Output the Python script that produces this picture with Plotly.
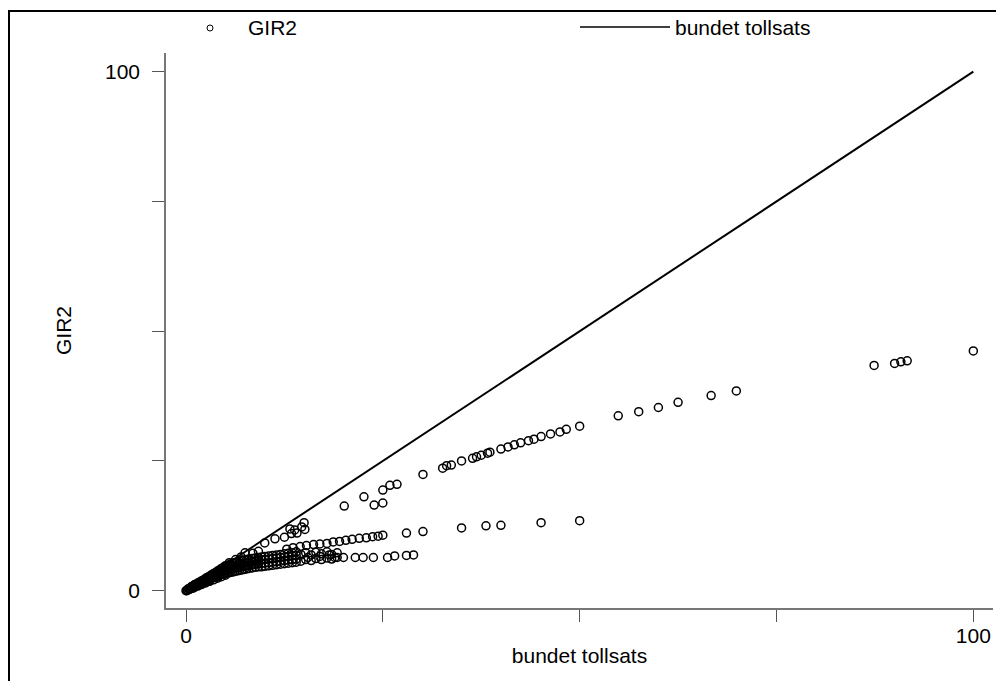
import plotly.graph_objects as go

# ---- data ----
# dense cluster near the origin (bundet tollsats, GIR2)
cluster_x = [
    0.0, 0.2, 0.2, 0.4, 0.4, 0.6, 0.6, 0.8, 0.8,
    1.0, 1.0, 1.0, 1.25, 1.25, 1.25, 1.5, 1.5, 1.5, 1.75, 1.75, 1.75,
    2.0, 2.0, 2.0, 2.25, 2.25, 2.25, 2.5, 2.5, 2.5, 2.75, 2.75, 2.75,
    3.0, 3.0, 3.0, 3.25, 3.25, 3.25, 3.5, 3.5, 3.5, 3.75, 3.75, 3.75,
    4.0, 4.0, 4.0, 4.25, 4.25, 4.25, 4.5, 4.5, 4.5, 4.75, 4.75, 4.75,
    0.5, 1.0, 1.5, 2.0, 2.5, 3.0, 3.5, 4.0, 4.5, 5.0, 0.3, 0.7, 1.1, 0.1, 0.9, 1.9, 2.9, 3.9,
    5.0, 5.0, 5.0, 5.0, 5.3, 5.3, 5.3, 5.3, 5.6, 5.6, 5.6, 5.6, 5.9, 5.9, 5.9, 5.9,
    6.2, 6.2, 6.2, 6.2, 6.5, 6.5, 6.5, 6.5, 6.8, 6.8, 6.8, 6.8, 7.1, 7.1, 7.1, 7.1,
    7.4, 7.4, 7.4, 7.4, 7.7, 7.7, 7.7, 7.7, 8.0, 8.0, 8.0, 8.0, 8.4, 8.4, 8.4, 8.4,
    8.8, 8.8, 8.8, 8.8, 9.2, 9.2, 9.2, 9.2, 9.6, 9.6, 9.6, 9.6, 10.0, 10.0, 10.0, 10.0,
    10.5, 10.5, 10.5, 10.5, 11.0, 11.0, 11.0, 11.0, 11.5, 11.5, 11.5, 11.5, 12.0, 12.0, 12.0, 12.0,
    12.5, 12.5, 12.5, 12.5, 13.0, 13.0, 13.0, 13.0, 13.5, 13.5, 13.5, 13.5, 14.0, 14.0, 14.0, 14.0,
    14.6, 14.6, 15.2, 15.2, 15.9, 15.9, 16.5, 16.5, 17.2, 17.2, 17.9, 17.9, 18.5, 18.5, 19.2, 19.2,
    5.5, 6.3, 7.0, 8.5, 9.2,
]
cluster_y = [
    0.0, 0.1, 0.2, 0.3, 0.4, 0.4, 0.6, 0.6, 0.8,
    0.7, 0.9, 1.0, 0.9, 1.1, 1.2, 1.1, 1.3, 1.5, 1.3, 1.5, 1.7,
    1.5, 1.7, 1.9, 1.6, 1.9, 2.1, 1.8, 2.1, 2.4, 2.0, 2.3, 2.6,
    2.2, 2.5, 2.8, 2.4, 2.7, 3.1, 2.5, 2.9, 3.3, 2.7, 3.1, 3.5,
    2.8, 3.3, 3.8, 3.0, 3.5, 4.0, 3.1, 3.7, 4.3, 3.2, 3.9, 4.5,
    0.3, 0.6, 0.9, 1.2, 1.5, 1.8, 2.1, 2.4, 2.7, 3.0, 0.4, 0.8, 1.2, 0.0, 0.5, 1.2, 1.9, 2.6,
    3.3, 3.8, 4.3, 4.8, 3.4, 3.9, 4.4, 4.9, 3.5, 4.0, 4.6, 5.1, 3.6, 4.2, 4.7, 5.3,
    3.7, 4.3, 4.8, 5.4, 3.8, 4.4, 5.0, 5.5, 3.9, 4.5, 5.1, 5.7, 4.0, 4.6, 5.2, 5.8,
    4.1, 4.7, 5.3, 5.9, 4.2, 4.8, 5.4, 6.0, 4.3, 4.9, 5.5, 6.1, 4.4, 5.0, 5.6, 6.2,
    4.5, 5.1, 5.7, 6.3, 4.6, 5.2, 5.8, 6.4, 4.6, 5.3, 5.9, 6.5, 4.7, 5.3, 6.0, 6.6,
    4.8, 5.4, 6.1, 6.7, 4.9, 5.5, 6.2, 6.8, 5.0, 5.6, 6.3, 6.9, 5.1, 5.7, 6.4, 7.0,
    5.2, 5.8, 6.5, 7.1, 5.3, 5.9, 6.6, 7.2, 5.4, 6.0, 6.7, 7.3, 5.5, 6.1, 6.8, 7.5,
    5.7, 7.0, 6.0, 7.3, 5.8, 6.9, 6.2, 7.4, 6.0, 7.1, 6.3, 7.5, 6.1, 7.0, 6.4, 7.3,
    5.4, 6.0, 6.5, 7.2, 7.6,
]

# middle branch
middle_x = [12.8, 13.6, 14.5, 15.3, 16.2, 17.0, 17.9, 18.7, 19.5, 20.3, 21.1, 22.0, 22.9, 23.7, 24.4, 25.0,
            28.0, 30.1, 35.0, 38.1, 40.0, 45.1, 50.0]
middle_y = [8.0, 8.3, 8.5, 8.7, 8.9, 9.0, 9.1, 9.4, 9.5, 9.7, 9.9, 10.1, 10.2, 10.4, 10.5, 10.7,
            11.1, 11.4, 12.1, 12.5, 12.6, 13.1, 13.5]

# lower branch
lower_x = [15.5, 17.0, 18.2, 18.9, 20.0, 21.5, 22.5, 23.8, 25.6, 26.5, 28.0, 28.9]
lower_y = [6.4, 6.6, 6.9, 6.4, 6.4, 6.4, 6.4, 6.4, 6.4, 6.7, 6.8, 6.9]

# upper branch
upper_x = [7.5, 10.0, 11.3, 12.5, 13.2, 13.4, 13.8, 14.1, 14.7, 15.0, 15.1, 20.1, 22.6, 23.9, 25.0, 25.0, 25.9, 26.8,
           30.1, 32.6, 33.1, 33.7, 35.0, 36.4, 36.9, 37.5, 38.3, 38.6, 40.0, 40.9, 41.7, 42.5, 43.5, 44.2, 45.1,
           46.3, 47.5, 48.3, 50.0, 54.9, 57.5, 60.0, 62.5, 66.7, 69.9, 87.4, 90.0, 90.8, 91.6, 100.0]
upper_y = [7.3, 9.2, 10.0, 10.3, 11.9, 11.0, 11.7, 11.1, 12.3, 13.1, 11.8, 16.3, 18.1, 16.5, 16.9, 19.4, 20.3, 20.5,
           22.4, 23.6, 24.1, 24.2, 25.0, 25.5, 25.8, 26.1, 26.5, 26.7, 27.3, 27.7, 28.1, 28.5, 28.9, 29.2, 29.7,
           30.2, 30.6, 31.1, 31.7, 33.7, 34.5, 35.3, 36.3, 37.6, 38.5, 43.4, 43.8, 44.1, 44.3, 46.2]

bundet_tollsats = cluster_x + middle_x + lower_x + upper_x
gir2 = cluster_y + middle_y + lower_y + upper_y

tick_vals = [0, 25, 50, 75, 100]
tick_text = ["0", "", "", "", "100"]

x_title = "bundet tollsats"
y_title = "GIR2"

FONT = "Liberation Sans, Arial, sans-serif"
FS = 21

line_x = sorted(set(bundet_tollsats))
line_y = line_x  # bundet tollsats plotted against itself

fig = go.Figure()
fig.add_trace(go.Scatter(
    x=bundet_tollsats, y=gir2, mode="markers", name=y_title,
    marker=dict(symbol="circle-open", size=8, color="black", line=dict(width=1.5, color="black")),
    showlegend=False,
))
fig.add_trace(go.Scatter(
    x=line_x, y=line_y, mode="lines", name=x_title,
    line=dict(color="black", width=2), showlegend=False,
))

# page body has an 8px margin; positions below are in screen pixels
OFF = 8
W, H = 1004 - OFF, 681 - OFF
L, R, T, B = 166 - OFF, 993 - OFF, 53 - OFF, 608 - OFF
pw, ph = R - L, B - T


def px(xp):
    return (xp - OFF - L) / pw


def py(yp):
    return (B - (yp - OFF)) / ph


shapes = [
    # outer frame
    dict(type="rect", xref="paper", yref="paper", x0=px(9), x1=px(1020), y0=py(700), y1=py(11),
         line=dict(color="black", width=2), layer="above"),
    # legend line symbol
    dict(type="line", xref="paper", yref="paper", x0=px(580), x1=px(670), y0=py(27), y1=py(27),
         line=dict(color="black", width=1.3)),
    # legend marker symbol
    dict(type="circle", xref="paper", yref="paper", x0=px(207), x1=px(213), y0=py(31), y1=py(25),
         line=dict(color="black", width=1)),
]

annotations = [
    dict(xref="paper", yref="paper", x=px(246), y=py(27), text=y_title, showarrow=False,
         xanchor="left", yanchor="middle", font=dict(family=FONT, size=FS, color="black")),
    dict(xref="paper", yref="paper", x=px(673), y=py(27), text=x_title, showarrow=False,
         xanchor="left", yanchor="middle", font=dict(family=FONT, size=FS, color="black")),
]

fig.update_layout(
    width=W, height=H,
    margin=dict(l=L, r=W - R, t=T, b=H - B, pad=0),
    paper_bgcolor="white", plot_bgcolor="white",
    font=dict(family=FONT, size=FS, color="black"),
    shapes=shapes, annotations=annotations,
    showlegend=False,
)
fig.update_xaxes(
    range=[-2.54, 102.5], tickvals=tick_vals, ticktext=tick_text,
    showgrid=False, zeroline=False, showline=True, linecolor="#777", linewidth=1.5,
    ticks="outside", ticklen=12, tickcolor="#555", tickwidth=1,
    ticklabelstandoff=-4,
    title=dict(text=x_title, standoff=2, font=dict(family=FONT, size=FS)),
    tickfont=dict(family=FONT, size=FS),
)
fig.update_yaxes(
    range=[-3.33, 103.6], tickvals=tick_vals, ticktext=tick_text,
    showgrid=False, zeroline=False, showline=True, linecolor="#777", linewidth=1.5,
    ticks="outside", ticklen=12, tickcolor="#555", tickwidth=1,
    ticklabelstandoff=8,
    title=dict(text=y_title, standoff=28, font=dict(family=FONT, size=FS)),
    tickfont=dict(family=FONT, size=FS),
)

fig.write_html("out.html")
